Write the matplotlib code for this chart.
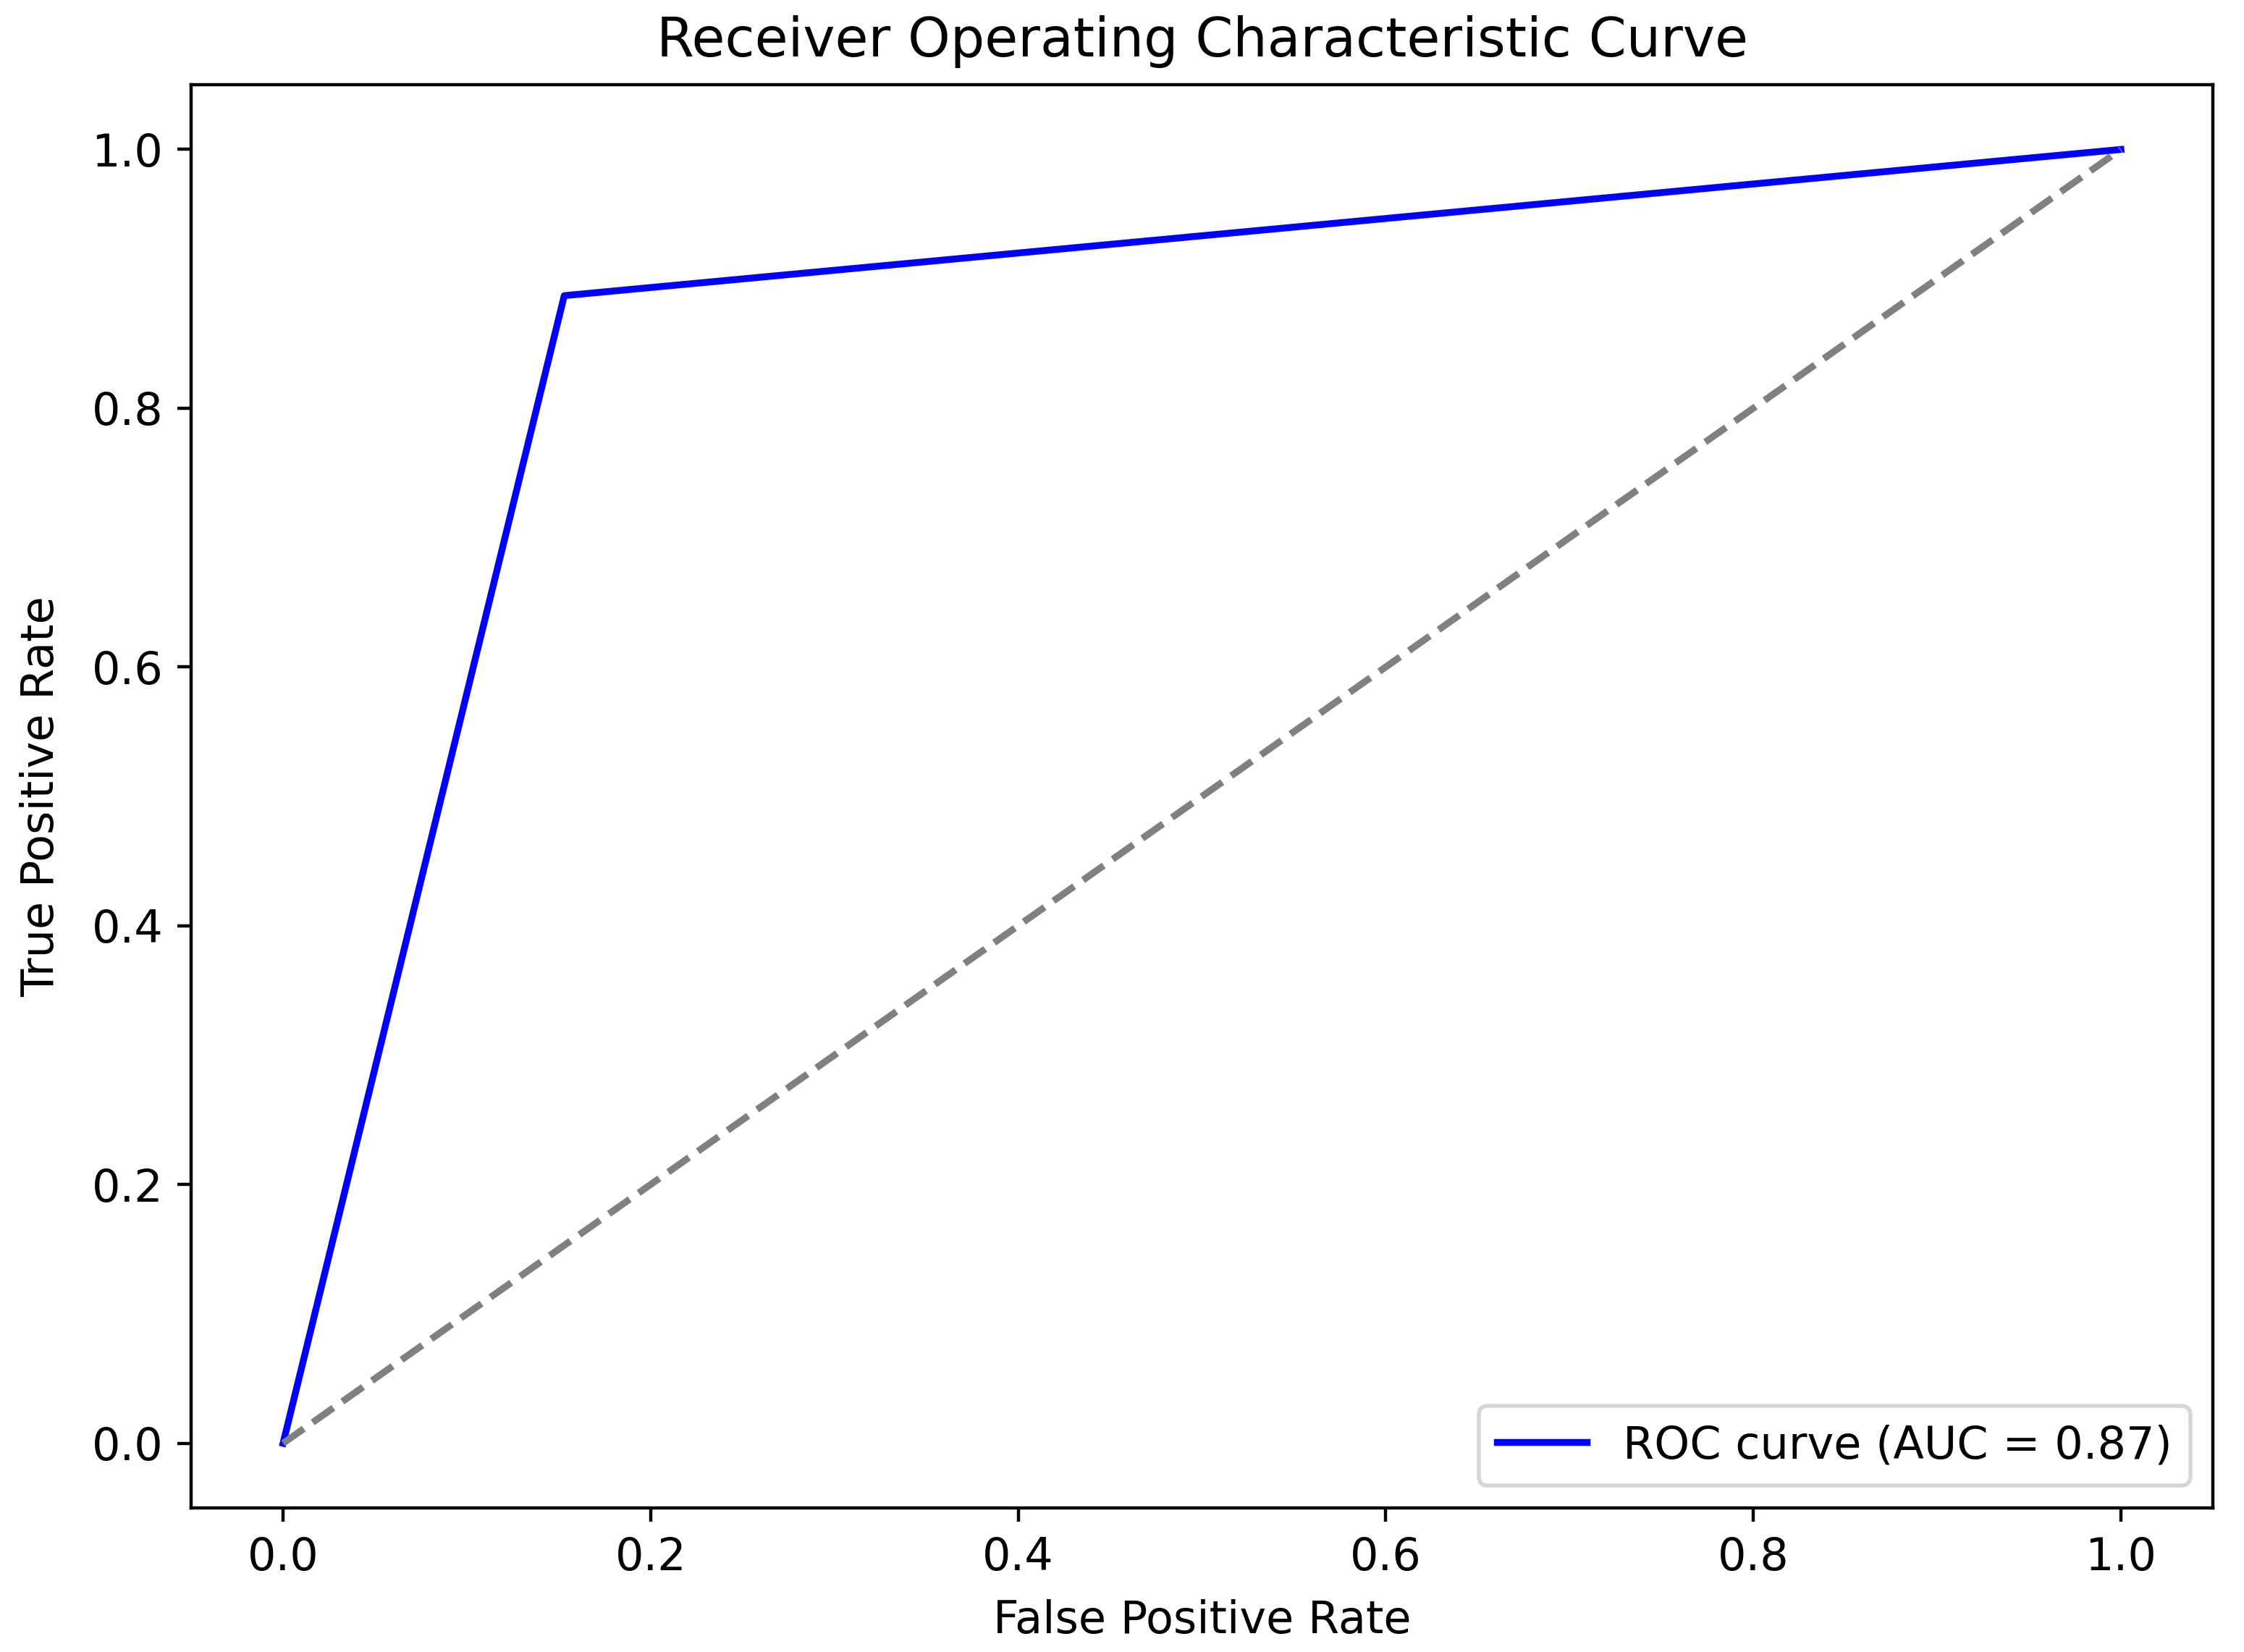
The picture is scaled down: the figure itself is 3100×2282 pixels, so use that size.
import numpy as np
import matplotlib
matplotlib.use("Agg")
import matplotlib.pyplot as plt

# ROC points
fpr = [0.0, 0.153, 1.0]
tpr = [0.0, 0.887, 1.0]
roc_auc = 0.87

diag_x = [0, 1]
diag_y = [0, 1]

plt.rcParams['font.size'] = 11.2

fig = plt.figure(figsize=(7.75, 5.705), dpi=400)
ax = fig.add_axes([0.0852, 0.0872, 0.9009, 0.8615])

ax.plot(fpr, tpr, color='blue', linewidth=1.7, label=f'ROC curve (AUC = {roc_auc:.2f})')
ax.plot(diag_x, diag_y, color='gray', linestyle='--', linewidth=1.7)

ax.set_title('Receiver Operating Characteristic Curve', pad=7)
ax.set_xlabel('False Positive Rate', labelpad=4.8)
ax.set_ylabel('True Positive Rate', labelpad=7)
ax.legend(loc='lower right')

fig.savefig('out.png', dpi=400)
